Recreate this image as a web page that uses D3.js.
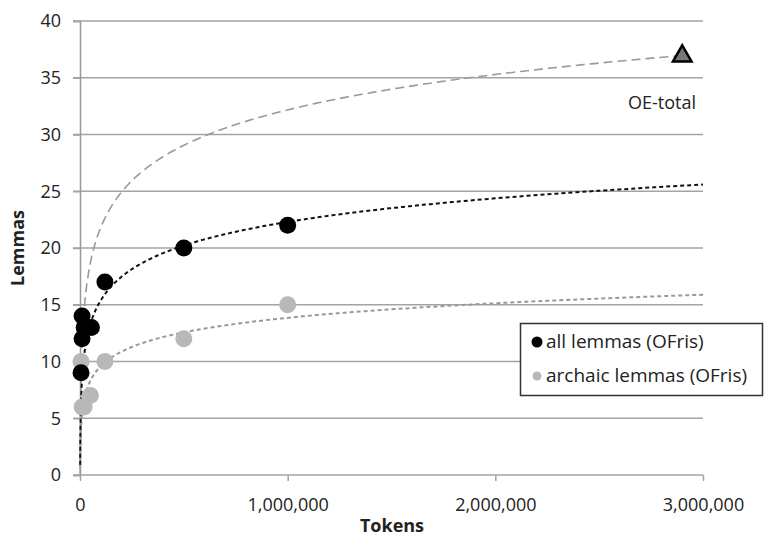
<!DOCTYPE html>
<html>
<head>
<meta charset="utf-8">
<script src="https://cdn.jsdelivr.net/npm/d3@7"></script>
<style>
body { margin: 0; background: #fff; }
text { font-family: "Open Sans", sans-serif; }
</style>
</head>
<body>
<svg width="765" height="538"></svg>
<script>
// data
var allX = [5000, 10000, 10000, 20000, 55000, 120000, 500000, 1000000],
    allY = [9, 12, 14, 13, 13, 17, 20, 22];
var archX = [5000, 10000, 20000, 50000, 120000, 500000, 1000000],
    archY = [10, 6, 6, 7, 10, 12, 15];
var oeTotal = [2900000, 37];
// log trendlines y = a*ln(x) + b, [a, b, xStart, xEnd]
var trendAll = [3.0, -19.15, 800, 3000000],
    trendArch = [1.85, -11.71, 800, 3000000],
    trendOE = [4.5, -30.0, 800, 2900000];
var yTicks = [0, 5, 10, 15, 20, 25, 30, 35, 40],
    xTicks = [0, 1000000, 2000000, 3000000];
var legendLabels = ["all lemmas (OFris)", "archaic lemmas (OFris)"];

var svg = d3.select("svg");
var x = d3.scaleLinear().domain([0, 3000000]).range([80, 703]),
    y = d3.scaleLinear().domain([0, 40]).range([475, 21]);

// grid
svg.append("g").selectAll("line")
    .data(yTicks)
    .enter().append("line")
    .attr("x1", 73).attr("x2", 703)
    .attr("y1", d => y(d)).attr("y2", d => y(d))
    .attr("stroke", "#a3a3a3").attr("stroke-width", 1.5);

// y axis
var yAxis = svg.append("g")
    .attr("transform", "translate(80,0)")
    .call(d3.axisLeft(y).tickValues(yTicks).tickSize(7).tickPadding(12));
yAxis.select(".domain").attr("stroke", "#999").attr("stroke-width", 1.5);
yAxis.selectAll(".tick line").attr("stroke", "#a3a3a3").attr("stroke-width", 1.5);
yAxis.selectAll("text").attr("font-size", 18).attr("fill", "#222")
    .style("font-family", "'Open Sans', sans-serif");

// x axis
var xAxis = svg.append("g")
    .attr("transform", "translate(0,475)")
    .call(d3.axisBottom(x).tickValues(xTicks).tickSize(6).tickPadding(17).tickFormat(d3.format(",")));
xAxis.select(".domain").remove();
xAxis.selectAll(".tick line").attr("stroke", "#a3a3a3").attr("stroke-width", 1.5);
xAxis.selectAll("text").attr("font-size", 18).attr("fill", "#222")
    .style("font-family", "'Open Sans', sans-serif");

// axis titles
svg.append("text").attr("x", 392).attr("y", 532)
    .attr("text-anchor", "middle").attr("font-size", 18).attr("font-weight", "bold")
    .attr("fill", "#222").text("Tokens");
svg.append("text").attr("transform", "translate(24,248) rotate(-90)")
    .attr("text-anchor", "middle").attr("font-size", 18).attr("font-weight", "bold")
    .attr("fill", "#222").text("Lemmas");

// trendlines
function trend(t) {
    var xs = d3.range(0, 401).map(i => t[2] * Math.pow(t[3] / t[2], i / 400));
    return d3.line().x(d => x(d)).y(d => y(Math.max(0, t[0] * Math.log(d) + t[1])))(xs);
}
svg.append("path").attr("d", trend(trendOE)).attr("fill", "none")
    .attr("stroke", "#9a9a9a").attr("stroke-width", 1.6).attr("stroke-dasharray", "9,5");
svg.append("path").attr("d", trend(trendArch)).attr("fill", "none")
    .attr("stroke", "#999").attr("stroke-width", 2).attr("stroke-dasharray", "4,3");
svg.append("path").attr("d", trend(trendAll)).attr("fill", "none")
    .attr("stroke", "#111").attr("stroke-width", 2).attr("stroke-dasharray", "4,3");

// points
svg.append("g").selectAll("circle")
    .data(archX)
    .enter().append("circle")
    .attr("cx", d => x(d)).attr("cy", (d, i) => y(archY[i])).attr("r", 8.5)
    .attr("fill", "#b8b8b8");
svg.append("g").selectAll("circle")
    .data(allX)
    .enter().append("circle")
    .attr("cx", d => x(d)).attr("cy", (d, i) => y(allY[i])).attr("r", 8.5)
    .attr("fill", "#000");

// OE-total
svg.append("path")
    .attr("d", d3.symbol(d3.symbolTriangle, 150)())
    .attr("transform", `translate(${x(oeTotal[0])},${y(oeTotal[1]) + 1})`)
    .attr("fill", "#777").attr("stroke", "#000").attr("stroke-width", 2.5)
    .attr("stroke-linejoin", "miter");
svg.append("text").attr("x", 696).attr("y", 109)
    .attr("text-anchor", "end").attr("font-size", 18).attr("fill", "#222")
    .text("OE-total");

// legend
var leg = svg.append("g");
leg.append("rect").attr("x", 520.5).attr("y", 323.5).attr("width", 242).attr("height", 72)
    .attr("fill", "#fff").attr("stroke", "#333").attr("stroke-width", 1.5);
leg.selectAll("circle").data(legendLabels).enter().append("circle")
    .attr("cx", 537).attr("cy", (d, i) => 342 + i * 34).attr("r", (d, i) => i ? 4.5 : 5.5)
    .attr("fill", (d, i) => i ? "#b8b8b8" : "#000");
leg.selectAll("text").data(legendLabels).enter().append("text")
    .attr("x", 546).attr("y", (d, i) => 348 + i * 34)
    .attr("font-size", 19).attr("fill", "#222").text(d => d);
</script>
</body>
</html>
